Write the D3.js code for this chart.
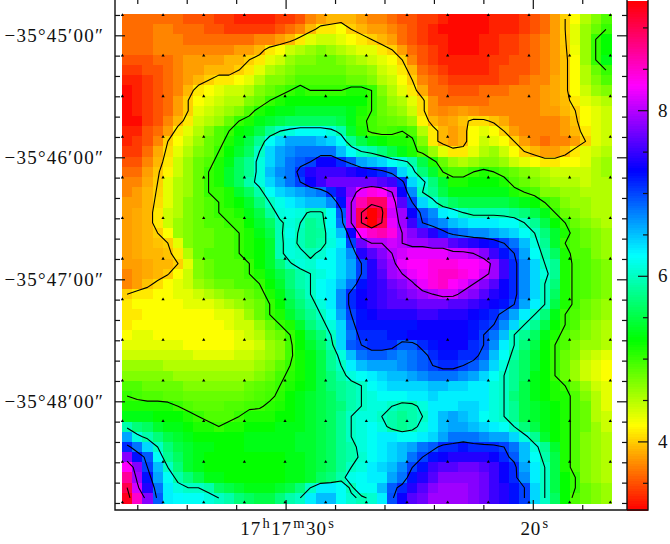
<!DOCTYPE html>
<html><head><meta charset="utf-8">
<script src="https://cdnjs.cloudflare.com/ajax/libs/d3/7.8.5/d3.min.js"></script>
<style>html,body{margin:0;padding:0;background:#fff}svg{display:block}
text{font-family:"Liberation Serif",serif;fill:#111}</style></head><body>
<script>
const r00=[3.6,3.6,3.6,3.6,3.6,3.6,3.5,3.5,3.5,3.4,3.4,3.3,3.3,3.3,3.3,3.4,3.4,3.5,3.7,3.8,3.9,3.9,3.9,3.8,3.7,3.7,3.6,3.5,3.5,3.4,3.4,3.3,3.2,3.2,3.2,3.2,3.3,3.3,3.3,3.4,3.5,3.6,3.8,4.0,4.2,4.5,4.7,4.9];
const r01=[3.6,3.6,3.6,3.7,3.7,3.6,3.6,3.6,3.5,3.5,3.4,3.4,3.4,3.4,3.4,3.5,3.6,3.7,3.9,4.1,4.1,4.2,4.0,3.9,3.8,3.8,3.7,3.6,3.5,3.4,3.3,3.2,3.2,3.2,3.2,3.2,3.3,3.3,3.3,3.4,3.5,3.6,3.8,4.0,4.3,4.6,4.8,5.0];
const r02=[3.6,3.6,3.6,3.7,3.7,3.7,3.6,3.6,3.6,3.6,3.6,3.6,3.6,3.7,3.7,3.8,3.9,4.1,4.3,4.4,4.4,4.3,4.2,4.1,4.0,3.9,3.8,3.6,3.5,3.4,3.3,3.3,3.2,3.2,3.2,3.3,3.3,3.4,3.4,3.5,3.6,3.7,3.8,3.98,4.3,4.6,5.0,5.2];
const r03=[3.6,3.6,3.6,3.7,3.7,3.7,3.7,3.7,3.7,3.7,3.7,3.8,3.8,3.9,4.1,4.2,4.4,4.5,4.6,4.7,4.6,4.5,4.4,4.3,4.3,4.1,4.0,3.8,3.6,3.5,3.4,3.3,3.2,3.2,3.2,3.3,3.3,3.4,3.4,3.5,3.6,3.7,3.8,3.96,4.25,4.6,5.0,5.2];
const r04=[3.5,3.5,3.5,3.6,3.6,3.7,3.8,3.8,3.8,3.8,3.9,3.9,4.0,4.1,4.3,4.4,4.6,4.7,4.7,4.8,4.8,4.7,4.6,4.5,4.4,4.3,4.2,4.0,3.7,3.5,3.4,3.3,3.3,3.3,3.3,3.3,3.4,3.4,3.5,3.5,3.6,3.7,3.8,3.94,4.2,4.6,5.0,5.3];
const r05=[3.4,3.4,3.5,3.5,3.6,3.7,3.8,3.8,3.9,3.9,3.9,4.0,4.1,4.3,4.5,4.6,4.7,4.8,4.8,4.8,4.8,4.8,4.7,4.7,4.6,4.4,4.3,4.1,3.9,3.6,3.5,3.4,3.3,3.3,3.3,3.3,3.4,3.5,3.5,3.5,3.6,3.7,3.8,3.94,4.2,4.5,4.8,5.0];
const r06=[3.3,3.3,3.4,3.5,3.6,3.7,3.8,3.9,4.0,4.1,4.1,4.2,4.3,4.5,4.7,4.7,4.8,4.9,4.9,4.9,4.9,4.9,4.8,4.8,4.7,4.5,4.4,4.2,4.0,3.7,3.6,3.5,3.4,3.4,3.4,3.4,3.4,3.5,3.5,3.6,3.7,3.7,3.85,3.94,4.2,4.5,4.7,4.9];
const r07=[3.2,3.3,3.4,3.5,3.6,3.7,3.9,4.1,4.2,4.3,4.4,4.4,4.5,4.7,4.8,4.9,5.0,5.1,5.0,5.0,5.0,5.0,5.1,5.1,5.0,4.7,4.5,4.3,4.1,3.85,3.6,3.6,3.5,3.5,3.5,3.6,3.6,3.6,3.7,3.7,3.7,3.8,3.85,3.94,4.2,4.4,4.6,4.7];
const r08=[3.2,3.3,3.4,3.5,3.6,3.8,4.0,4.2,4.3,4.4,4.5,4.5,4.7,4.8,5.0,5.1,5.2,5.2,5.2,5.2,5.2,5.2,5.2,5.2,5.0,4.8,4.6,4.5,4.3,4.05,3.75,3.6,3.6,3.6,3.6,3.6,3.7,3.7,3.7,3.7,3.7,3.8,3.85,3.92,4.1,4.3,4.4,4.5];
const r09=[3.2,3.3,3.4,3.5,3.6,3.8,4.0,4.3,4.4,4.5,4.6,4.7,4.9,5.1,5.2,5.3,5.3,5.4,5.4,5.4,5.4,5.4,5.3,5.1,5.0,4.8,4.7,4.6,4.4,4.05,3.75,3.7,3.75,3.8,3.75,3.7,3.7,3.7,3.7,3.7,3.7,3.8,3.8,3.9,4.0,4.2,4.3,4.4];
const r10=[3.2,3.2,3.4,3.5,3.7,3.9,4.1,4.4,4.5,4.6,4.8,5.0,5.1,5.3,5.4,5.5,5.6,5.6,5.6,5.6,5.6,5.5,5.3,5.05,4.95,4.85,4.8,4.75,4.6,4.15,3.9,3.8,3.85,3.95,4.05,4.05,3.95,3.85,3.7,3.7,3.7,3.7,3.7,3.8,3.95,4.2,4.3,4.4];
const r11=[3.3,3.3,3.5,3.6,3.8,4.1,4.3,4.5,4.7,4.9,5.0,5.2,5.3,5.5,5.8,6.0,6.1,6.2,6.2,6.2,6.1,5.9,5.4,5.1,4.95,4.9,4.95,5.0,4.9,4.5,4.1,3.9,3.8,3.9,4.2,4.3,4.2,4.0,3.8,3.7,3.7,3.7,3.7,3.8,3.9,4.1,4.3,4.4];
const r12=[3.3,3.4,3.5,3.7,4.0,4.2,4.4,4.6,4.8,4.9,5.1,5.3,5.5,5.8,6.2,6.4,6.6,6.6,6.6,6.5,6.4,6.2,5.8,5.5,5.3,5.2,5.1,5.1,5.05,4.7,4.1,3.9,3.8,3.9,4.2,4.4,4.3,4.2,4.0,3.8,3.7,3.6,3.7,3.7,3.8,4.0,4.3,4.4];
const r13=[3.4,3.4,3.6,3.85,4.05,4.3,4.5,4.7,4.8,5.0,5.2,5.4,5.6,6.0,6.4,6.6,6.7,6.8,6.8,6.8,6.8,6.5,6.2,6.0,5.9,5.7,5.5,5.3,5.1,4.9,4.6,4.3,4.1,4.1,4.3,4.5,4.6,4.4,4.2,4.0,3.9,3.8,3.8,3.9,4.1,4.3,4.4,4.5];
const r14=[3.5,3.5,3.7,3.9,4.1,4.4,4.6,4.8,4.9,5.1,5.3,5.6,5.8,6.1,6.4,6.6,6.8,6.9,7.0,7.3,7.3,7.1,6.9,6.6,6.5,6.4,6.2,6.1,5.9,5.5,5.1,4.8,4.6,4.5,4.6,4.7,4.7,4.6,4.4,4.3,4.2,4.1,4.1,4.2,4.2,4.3,4.5,4.6];
const r15=[3.6,3.6,3.8,3.97,4.15,4.4,4.6,4.8,5.0,5.1,5.4,5.6,5.8,6.1,6.5,6.7,6.8,7.1,7.4,7.5,7.5,7.5,7.4,7.3,7.2,7.1,6.9,6.4,6.1,5.7,5.4,5.0,4.9,4.9,5.0,5.1,5.0,4.9,4.8,4.7,4.6,4.5,4.4,4.4,4.4,4.4,4.5,4.6];
const r16=[3.7,3.7,3.85,4.0,4.3,4.5,4.6,4.8,5.0,5.1,5.4,5.6,5.9,6.1,6.4,6.6,6.8,7.0,7.3,7.5,7.7,7.7,7.7,7.7,7.7,7.6,7.5,7.1,6.4,6.1,5.7,5.4,5.1,5.1,5.2,5.2,5.2,5.1,4.9,4.8,4.7,4.6,4.5,4.5,4.5,4.4,4.5,4.5];
const r17=[3.7,3.8,3.9,4.02,4.3,4.5,4.6,4.8,5.0,5.0,5.1,5.4,5.6,5.9,6.2,6.4,6.5,6.6,6.7,6.8,7.1,7.4,7.8,8.2,8.4,8.3,8.0,7.3,6.7,6.0,5.8,5.5,5.3,5.3,5.3,5.3,5.3,5.3,5.1,5.0,4.9,4.7,4.7,4.6,4.6,4.5,4.5,4.5];
const r18=[3.8,3.8,3.9,4.05,4.3,4.5,4.7,4.8,4.9,5.0,5.1,5.2,5.4,5.7,6.0,6.15,6.3,6.4,6.5,6.5,6.7,7.2,8.0,8.6,8.9,8.9,8.2,7.6,7.0,6.4,6.1,5.8,5.6,5.5,5.5,5.5,5.5,5.5,5.4,5.3,5.2,5.0,4.9,4.7,4.6,4.6,4.5,4.5];
const r19=[3.8,3.85,3.9,4.1,4.4,4.5,4.7,4.8,4.9,5.0,5.0,5.1,5.3,5.5,5.85,6.1,6.15,6.1,5.95,5.95,6.2,6.9,8.0,9.0,9.4,9.1,8.1,7.9,7.3,6.9,6.7,6.3,6.2,6.0,5.9,5.9,5.9,5.9,5.8,5.7,5.5,5.3,5.0,4.8,4.7,4.6,4.5,4.5];
const r20=[3.8,3.85,3.9,4.1,4.4,4.6,4.7,4.8,4.9,4.9,5.0,5.0,5.2,5.4,5.6,5.95,6.1,6.0,5.8,5.9,6.2,6.8,8.0,9.0,9.5,9.0,8.2,7.9,7.5,7.0,6.8,6.7,6.5,6.4,6.3,6.3,6.3,6.2,6.2,6.0,5.8,5.5,5.2,5.0,4.8,4.7,4.6,4.5];
const r21=[3.8,3.85,3.9,4.0,4.2,4.6,4.7,4.8,4.8,4.9,4.9,5.0,5.1,5.3,5.5,5.95,6.15,5.95,5.8,5.85,6.15,6.5,7.3,8.3,8.5,8.6,8.4,8.0,7.8,7.6,7.4,7.1,6.9,6.8,6.7,6.7,6.6,6.5,6.4,6.2,6.0,5.7,5.4,5.1,4.9,4.8,4.7,4.6];
const r22=[3.8,3.85,3.9,3.95,4.0,4.3,4.7,4.8,4.8,4.9,4.9,5.0,5.1,5.2,5.4,5.95,6.1,5.95,5.8,5.9,6.1,6.3,7.0,7.7,8.0,8.0,8.1,8.0,7.9,7.9,7.8,7.8,7.6,7.5,7.4,7.3,7.2,7.0,6.8,6.5,6.1,5.8,5.4,5.0,4.9,4.8,4.7,4.6];
const r23=[3.8,3.85,3.9,3.9,3.95,4.1,4.5,4.8,4.9,4.9,4.9,5.0,5.1,5.2,5.4,5.95,6.1,6.05,5.95,6.05,6.2,6.4,6.7,7.4,7.6,7.8,8.0,8.1,8.2,8.2,8.2,8.2,8.1,8.1,8.0,7.8,7.5,7.2,7.0,6.6,6.2,5.9,5.6,5.1,4.9,4.9,4.7,4.6];
const r24=[3.8,3.8,3.85,3.9,3.9,4.0,4.3,4.7,4.8,4.9,4.9,4.9,5.0,5.2,5.4,5.7,5.98,6.1,6.05,6.2,6.2,6.4,6.6,7.0,7.4,7.7,7.9,8.2,8.3,8.3,8.4,8.4,8.4,8.3,8.3,8.2,7.9,7.5,7.1,6.7,6.4,6.0,5.8,5.1,4.95,4.9,4.8,4.7];
const r25=[3.7,3.8,3.85,3.9,3.98,4.2,4.4,4.7,4.8,4.9,4.9,4.9,5.0,5.1,5.3,5.5,5.7,5.9,6.0,6.1,6.2,6.4,6.6,7.0,7.4,7.6,7.9,8.0,8.2,8.3,8.4,8.5,8.5,8.4,8.3,8.1,7.9,7.5,7.1,6.7,6.4,6.1,5.8,5.1,4.95,4.9,4.8,4.7];
const r26=[3.7,3.8,3.95,4.05,4.2,4.3,4.4,4.6,4.7,4.8,4.8,4.9,4.9,5.0,5.2,5.4,5.7,5.9,6.0,6.2,6.3,6.5,6.8,7.2,7.4,7.5,7.7,7.8,7.95,8.2,8.4,8.5,8.3,8.2,8.0,7.8,7.6,7.3,7.1,6.7,6.4,6.0,5.7,5.1,4.95,4.9,4.8,4.7];
const r27=[4.0,4.1,4.1,4.2,4.2,4.3,4.3,4.4,4.5,4.6,4.7,4.7,4.8,4.9,5.1,5.3,5.6,5.8,6.0,6.2,6.3,6.7,7.1,7.3,7.4,7.5,7.6,7.7,7.8,7.9,8.0,8.1,8.1,7.9,7.8,7.6,7.4,7.3,7.1,6.7,6.4,6.0,5.6,5.1,4.95,4.9,4.8,4.7];
const r28=[4.1,4.2,4.2,4.2,4.2,4.2,4.3,4.3,4.3,4.4,4.5,4.6,4.7,4.8,5.0,5.2,5.5,5.7,5.9,6.1,6.3,6.7,7.1,7.3,7.4,7.5,7.6,7.6,7.6,7.7,7.7,7.7,7.6,7.6,7.5,7.4,7.3,7.2,7.0,6.6,6.3,6.0,5.5,5.1,4.95,4.8,4.7,4.6];
const r29=[4.1,4.1,4.2,4.2,4.2,4.2,4.2,4.2,4.2,4.3,4.3,4.4,4.6,4.8,5.0,5.1,5.4,5.6,5.8,6.0,6.2,6.6,7.0,7.2,7.3,7.4,7.4,7.4,7.4,7.5,7.5,7.4,7.4,7.4,7.3,7.2,7.1,6.9,6.6,6.3,6.0,5.7,5.3,5.0,4.9,4.8,4.7,4.6];
const r30=[4.1,4.2,4.2,4.2,4.2,4.2,4.2,4.2,4.2,4.2,4.3,4.4,4.4,4.6,4.8,5.0,5.1,5.4,5.7,5.9,6.1,6.4,6.9,7.2,7.2,7.2,7.2,7.2,7.2,7.3,7.3,7.3,7.3,7.3,7.2,7.1,7.0,6.7,6.4,6.0,5.8,5.5,5.2,5.0,4.9,4.7,4.6,4.5];
const r31=[4.2,4.3,4.3,4.2,4.2,4.2,4.2,4.2,4.2,4.2,4.2,4.3,4.4,4.5,4.7,4.8,5.0,5.2,5.5,5.7,6.0,6.4,6.8,7.1,7.1,7.1,7.2,7.2,7.3,7.3,7.3,7.3,7.3,7.3,7.2,7.0,6.8,6.5,6.0,5.8,5.6,5.3,5.1,4.9,4.8,4.7,4.6,4.5];
const r32=[4.3,4.3,4.3,4.3,4.3,4.3,4.2,4.2,4.2,4.2,4.2,4.3,4.3,4.4,4.6,4.7,4.95,5.2,5.4,5.6,5.9,6.4,6.9,7.0,7.1,7.1,7.1,6.9,6.9,7.1,7.2,7.3,7.3,7.3,7.1,7.0,6.7,6.3,6.0,5.7,5.5,5.2,5.0,4.9,4.7,4.6,4.6,4.5];
const r33=[4.4,4.4,4.4,4.4,4.4,4.4,4.4,4.3,4.3,4.3,4.3,4.4,4.4,4.5,4.6,4.7,4.95,5.15,5.3,5.5,5.8,6.1,6.5,6.8,6.9,6.9,6.8,6.7,6.8,6.9,7.1,7.2,7.2,7.1,7.1,6.9,6.5,6.2,5.9,5.6,5.4,5.2,5.0,4.8,4.7,4.5,4.4,4.3];
const r34=[4.6,4.6,4.6,4.6,4.5,4.5,4.5,4.5,4.5,4.5,4.5,4.5,4.5,4.6,4.7,4.85,5.0,5.15,5.3,5.5,5.8,6.0,6.3,6.5,6.6,6.6,6.6,6.7,6.8,6.9,7.0,7.1,7.1,7.0,6.9,6.7,6.4,6.1,5.8,5.6,5.4,5.2,5.0,4.8,4.6,4.4,4.3,4.2];
const r35=[4.7,4.7,4.7,4.7,4.7,4.6,4.6,4.6,4.6,4.6,4.6,4.6,4.6,4.7,4.8,4.95,5.05,5.15,5.3,5.5,5.7,5.9,6.1,6.2,6.3,6.4,6.5,6.5,6.6,6.7,6.8,6.8,6.8,6.7,6.6,6.4,6.2,6.0,5.8,5.6,5.3,5.2,5.0,4.8,4.6,4.4,4.3,4.2];
const r36=[4.9,4.9,4.8,4.8,4.8,4.8,4.7,4.7,4.7,4.7,4.7,4.7,4.8,4.85,4.9,5.0,5.1,5.2,5.3,5.5,5.7,5.8,5.9,6.0,6.2,6.3,6.4,6.4,6.4,6.4,6.5,6.5,6.4,6.4,6.3,6.3,6.1,6.0,5.8,5.5,5.3,5.2,5.1,5.0,4.8,4.6,4.4,4.3];
const r37=[5.0,4.95,4.9,4.9,4.85,4.85,4.8,4.8,4.8,4.8,4.8,4.8,4.85,4.9,4.95,5.05,5.2,5.3,5.4,5.5,5.6,5.8,5.9,6.0,6.1,6.2,6.2,6.2,6.3,6.3,6.4,6.3,6.3,6.3,6.3,6.3,6.1,6.0,5.7,5.5,5.3,5.2,5.1,5.1,4.9,4.7,4.5,4.3];
const r38=[5.1,5.1,5.1,5.1,5.1,5.0,4.9,4.85,4.85,4.85,4.9,4.9,4.95,4.97,5.05,5.1,5.2,5.3,5.4,5.5,5.6,5.7,5.9,6.0,6.1,6.1,6.0,5.9,5.9,6.1,6.3,6.3,6.3,6.4,6.4,6.3,6.1,6.0,5.8,5.5,5.4,5.3,5.2,5.1,4.9,4.8,4.5,4.3];
const r39=[5.3,5.3,5.3,5.2,5.2,5.2,5.1,5.0,4.9,4.9,4.9,5.0,5.1,5.1,5.1,5.2,5.2,5.3,5.4,5.5,5.6,5.8,6.0,6.1,6.1,6.0,5.9,5.8,5.9,6.0,6.3,6.5,6.6,6.5,6.4,6.2,6.1,6.0,5.8,5.5,5.4,5.3,5.2,5.1,4.9,4.8,4.5,4.4];
const r40=[5.9,5.7,5.6,5.4,5.3,5.3,5.2,5.1,5.1,5.0,5.1,5.1,5.2,5.2,5.2,5.3,5.3,5.3,5.4,5.5,5.6,5.8,6.0,6.1,6.2,6.1,5.9,5.8,5.9,6.1,6.3,6.5,6.6,6.6,6.5,6.4,6.3,6.2,6.0,5.7,5.5,5.3,5.2,5.1,4.9,4.8,4.6,4.4];
const r41=[6.6,6.1,5.9,5.7,5.5,5.4,5.3,5.2,5.2,5.2,5.2,5.2,5.3,5.3,5.3,5.3,5.3,5.4,5.4,5.5,5.6,5.8,6.0,6.1,6.2,6.3,6.3,6.2,6.2,6.3,6.4,6.6,6.8,6.8,6.8,6.7,6.6,6.6,6.4,6.1,5.8,5.4,5.2,5.1,4.9,4.7,4.6,4.5];
const r42=[7.1,6.8,6.4,6.0,5.7,5.5,5.4,5.3,5.3,5.2,5.2,5.2,5.3,5.3,5.3,5.3,5.3,5.4,5.4,5.5,5.6,5.8,5.9,6.1,6.2,6.3,6.4,6.5,6.6,6.8,6.9,7.1,7.1,7.2,7.1,7.1,7.1,7.0,6.8,6.5,6.1,5.8,5.4,5.1,4.9,4.7,4.6,4.5];
const r43=[7.8,7.2,6.9,6.2,5.8,5.6,5.4,5.3,5.2,5.2,5.2,5.2,5.2,5.2,5.2,5.2,5.3,5.3,5.4,5.5,5.6,5.8,5.9,6.05,6.2,6.3,6.4,6.5,6.8,7.0,7.2,7.3,7.4,7.4,7.4,7.4,7.3,7.1,6.9,6.5,6.2,5.9,5.5,5.1,4.9,4.7,4.6,4.5];
const r44=[8.3,7.8,7.0,6.5,6.0,5.7,5.4,5.3,5.2,5.2,5.2,5.2,5.2,5.2,5.2,5.2,5.3,5.3,5.4,5.5,5.6,5.8,6.0,6.1,6.3,6.4,6.5,6.7,7.0,7.2,7.5,7.6,7.6,7.7,7.7,7.6,7.5,7.3,7.1,6.6,6.3,6.0,5.5,5.1,4.9,4.7,4.6,4.5];
const r45=[8.7,7.9,7.2,6.6,6.2,5.9,5.7,5.5,5.3,5.3,5.2,5.2,5.2,5.2,5.2,5.2,5.3,5.3,5.4,5.6,5.7,5.9,6.15,6.2,6.3,6.3,6.6,6.8,7.2,7.4,7.6,7.8,7.8,7.8,7.8,7.7,7.5,7.3,7.1,6.7,6.3,6.0,5.5,5.2,5.0,4.7,4.6,4.5];
const r46=[9.0,8.1,7.4,6.8,6.3,6.1,6.0,6.0,5.9,5.6,5.5,5.4,5.3,5.3,5.3,5.4,5.5,5.7,6.0,6.3,6.3,6.2,5.95,6.2,6.2,6.5,6.9,7.1,7.4,7.6,7.8,7.9,7.9,7.9,7.8,7.7,7.5,7.4,7.2,7.0,6.4,6.0,5.5,5.2,5.0,4.8,4.7,4.6];
const r47=[9.2,8.5,7.8,6.9,6.3,6.25,6.2,6.2,6.1,6.0,5.9,5.7,5.6,5.5,5.5,5.7,5.9,6.0,6.3,6.5,6.5,6.2,6.05,5.95,6.05,6.3,6.95,7.3,7.6,7.7,7.9,7.9,7.9,7.9,7.8,7.7,7.5,7.4,7.2,7.0,6.4,6.0,5.6,5.2,4.9,4.8,4.7,4.6];
const grid=[r00,r01,r02,r03,r04,r05,r06,r07,r08,r09,r10,r11,r12,r13,r14,r15,r16,r17,r18,r19,r20,r21,r22,r23,r24,r25,r26,r27,r28,r29,r30,r31,r32,r33,r34,r35,r36,r37,r38,r39,r40,r41,r42,r43,r44,r45,r46,r47];
const contourLevels=[4,5,6,7,8,9];
const colorbarLabels=[4,6,8];
const colorbarMinor=[3.5,4.5,5,5.5,6.5,7,7.5,8.5,9];
const raMajor=[30,20];
const raMinor=[36,34,32,28,26,24,22,18];
const decMajor=[0,60,120,180];
const decMinor=[-10,10,20,30,40,50,70,80,90,100,110,130,140,150,160,170,190,200,210,220,230];
const decLabels=["\u221235\u00b045\u203200\u2033","\u221235\u00b046\u203200\u2033","\u221235\u00b047\u203200\u2033","\u221235\u00b048\u203200\u2033"];
const raLabels={30:[["17",0],["h",1],["17",0],["m",1],["30",0],["s",1]],20:[["20",0],["s",1]]};
const markRA=d3.range(13), markDec=d3.range(13);

const W=670,H=544,n=48,L=122,R=611,T=14,B=503;
const svg=d3.select("body").append("svg").attr("width",W).attr("height",H);
const cols=d3.scaleBand().domain(d3.range(n)).range([L,R]);
const rows=d3.scaleBand().domain(d3.range(n)).range([T,B]);
const hue=d3.scaleLinear().domain([3.166,9.31]).range([0,360]).clamp(true);
const col=v=>d3.hsl(hue(v)%360,1,0.5).formatHex();

svg.append("g").attr("shape-rendering","crispEdges").selectAll("g").data(grid).join("g")
 .attr("transform",(d,i)=>`translate(0,${rows(i)})`)
 .selectAll("rect").data(d=>d).join("rect")
 .attr("x",(d,i)=>cols(i)).attr("width",cols.bandwidth()+.5).attr("height",rows.bandwidth()+.5).attr("fill",d=>col(d));

const gx=d3.scaleLinear().domain([0,n]).range([L,R]), gy=d3.scaleLinear().domain([0,n]).range([T,B]);
const cs=d3.contours().size([n,n]).thresholds(contourLevels)(grid.flat());
const line=d3.line().x(p=>gx(p[0])).y(p=>gy(p[1]));
const onEdge=p=>p[0]<=0||p[0]>=n||p[1]<=0||p[1]>=n;
const paths=[];
cs.forEach(c=>c.coordinates.forEach(poly=>poly.forEach(ring=>{
  const pts=ring.slice(0,-1);
  const k=pts.findIndex(onEdge);
  if(k<0){paths.push(ring);return;}
  const rot=pts.slice(k).concat(pts.slice(0,k));
  let cur=[];
  rot.forEach(p=>{ if(onEdge(p)){ if(cur.length>1)paths.push(cur); cur=[]; } else cur.push(p); });
  if(cur.length>1)paths.push(cur);
})));
svg.append("g").selectAll("path").data(paths).join("path").attr("d",line)
 .attr("fill","none").attr("stroke","#000").attr("stroke-width",1.1).attr("stroke-linejoin","round");

const mx=d3.scaleLinear().domain([0,12]).range([122.4,610.3]), my=d3.scaleLinear().domain([0,12]).range([15,502.4]);
const tri=d3.symbol().type(d3.symbolTriangle).size(4.5)();
svg.append("g").selectAll("path").data(d3.cross(markRA,markDec)).join("path")
 .attr("d",tri).attr("transform",d=>`translate(${mx(d[0])},${my(d[1])})`).attr("fill","#000");

const x=d3.scaleLinear().domain([30,20]).range([285.6,532.8]);
const y=d3.scaleLinear().domain([0,60]).range([35.3,157.3]);
const style=g=>{g.select(".domain").remove();g.selectAll("line").attr("stroke","#111").attr("stroke-width",1.2);g.selectAll("text").attr("font-size",19).attr("fill","#111").attr("font-family",'"Liberation Serif",serif');};
const place=(ax,tx,ty)=>svg.append("g").attr("transform",`translate(${tx},${ty})`).call(ax).call(style);
place(d3.axisBottom(x).tickValues(raMinor).tickSize(-5).tickFormat(""),0,510);
const bm=place(d3.axisBottom(x).tickValues(raMajor).tickSize(-10).tickPadding(13).tickFormat(""),0,510);
bm.selectAll("text").attr("dy",null).attr("y",25).attr("x",1).each(function(d){
  const t=d3.select(this);
  raLabels[d].forEach(([s,sup],i)=>{
    t.append("tspan").text(s).attr("font-size",sup?14.5:19).attr("dy",sup?-7:(i?7:0)).attr("dx",i?1.5:0).attr("letter-spacing",sup?0:0.8);
  });
});
place(d3.axisTop(x).tickValues(raMinor).tickSize(-5).tickFormat(""),0,-1);
place(d3.axisTop(x).tickValues(raMajor).tickSize(-10).tickFormat(""),0,-1);
place(d3.axisLeft(y).tickValues(decMinor).tickSize(-5).tickFormat(""),115,0);
place(d3.axisLeft(y).tickValues(decMajor).tickSize(-10).tickPadding(11).tickFormat((d,i)=>decLabels[i]),115,0)
 .selectAll("text").attr("letter-spacing",1.2);
place(d3.axisRight(y).tickValues(decMinor).tickSize(-5).tickFormat(""),627,0);
place(d3.axisRight(y).tickValues(decMajor).tickSize(-10).tickFormat(""),627,0);

const cb=d3.scaleLinear().domain([4,8]).range([441.4,110.2]);
const steps=d3.range(3.166,9.31,0.03);
svg.append("g").attr("shape-rendering","crispEdges").selectAll("rect").data(steps).join("rect")
 .attr("x",627).attr("width",21).attr("y",d=>cb(d+0.03)).attr("height",d=>cb(d)-cb(d+0.03)+.6).attr("fill",d=>col(d));
place(d3.axisRight(cb).tickValues(colorbarMinor).tickSize(-5).tickFormat(""),648,0);
place(d3.axisRight(cb).tickValues(colorbarLabels).tickSize(-10).tickPadding(10).tickFormat(d3.format("d")),648,0);

const frame=svg.append("g").attr("fill","none").attr("stroke","#111").attr("stroke-width",1.4);
frame.append("path").attr("d",d3.line()([[115,-2],[115,510],[648,510],[648,-2]]));
frame.append("path").attr("d",d3.line()([[627,-2],[627,510]]));
</script></body></html>
